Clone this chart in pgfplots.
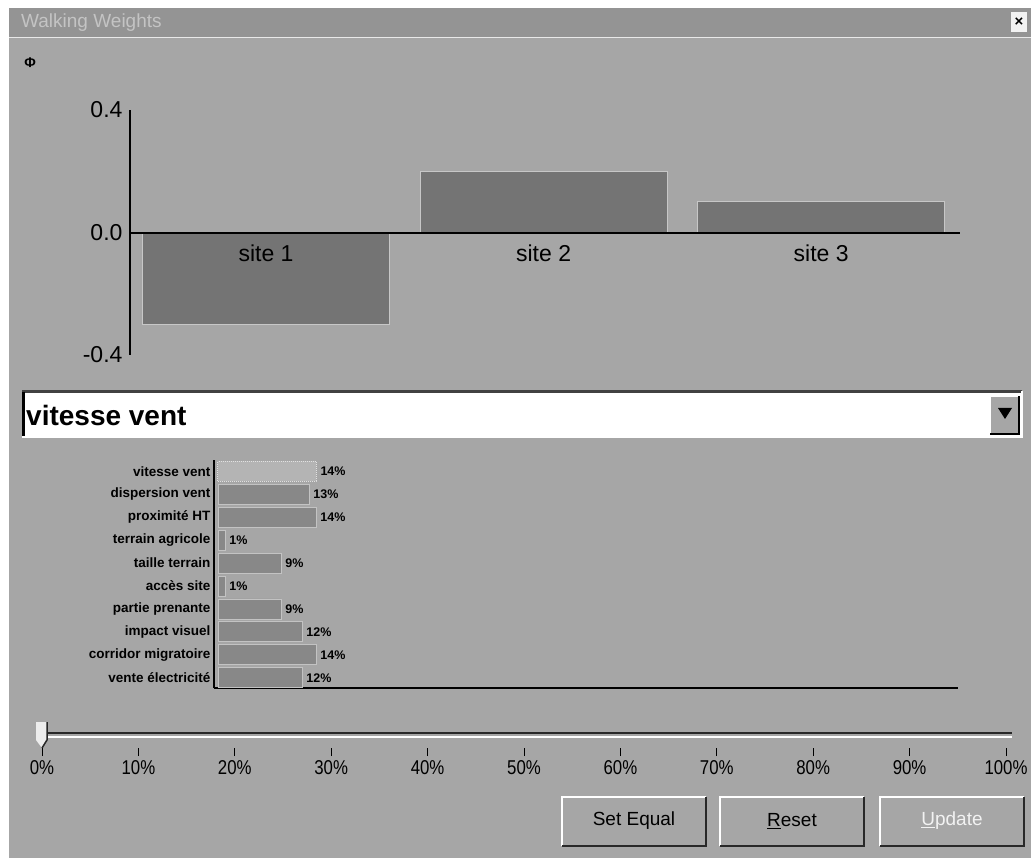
\documentclass[border=0pt]{standalone}
\usepackage{fontspec}
\setmainfont{Liberation Sans}
\usepackage{pgfplots}
\pgfplotsset{compat=1.18}
\definecolor{win}{RGB}{166,166,166}
\definecolor{titlebar}{RGB}{148,148,148}
\definecolor{titletext}{RGB}{196,196,196}
\definecolor{barA}{RGB}{116,116,116}
\definecolor{barB}{RGB}{136,136,136}
\definecolor{barSel}{RGB}{180,180,180}
\definecolor{dark}{RGB}{40,40,40}
\newcommand{\fs}[1]{\fontsize{#1}{#1}\selectfont}
\begin{document}
\begin{tikzpicture}
\useasboundingbox (0,0) rectangle (1031pt,-858pt);
\begin{scope}[x=1pt,y=-1pt]
  \fill[white] (0,0) rectangle (1031,858);
  \fill[win] (9,8) rectangle (1031,858);
  % title bar
  \fill[titlebar] (9,8) rectangle (1031,37);
  \draw[white!75!win, line width=1pt] (9,37.5) -- (1031,37.5);
  \node[anchor=west, text=titletext, font=\fs{19}, inner sep=0] at (21,23) {Walking Weights};
  % close button
  \fill[white!85!win] (1011,12) rectangle (1027,32);
  \node[font=\fs{15}\bfseries, inner sep=0] at (1019,22) {×};
  % phi
  \node[font=\fs{14}\bfseries, inner sep=0] at (30,63) {Φ};
  % dropdown
  \fill[white] (22,391) rectangle (1022,437);
  \draw[dark!80!win, line width=3pt] (22,392) -- (1022,392);
  \draw[black, line width=2.5pt] (23.5,392) -- (23.5,437);
  \draw[white, line width=2pt] (22,437) -- (1022,437) -- (1022,391);
  \fill[win] (990,396) rectangle (1019,434);
  \draw[white, line width=1.5pt] (990,434) -- (990,396) -- (1019,396);
  \draw[black, line width=2pt] (990,434) -- (1019,434) -- (1019,396);
  \fill[black] (998,408) -- (1012,408) -- (1005,419) -- cycle;
  \node[anchor=west, font=\fs{28}\bfseries, inner sep=0] at (26,415) {vitesse vent};
  % slider track
  \draw[dark, line width=2.5pt] (46,733) -- (1012,733);
  \draw[white, line width=2pt] (46,736.5) -- (1012,736.5);
  % slider thumb
  \fill[white!80!win] (36,722) -- (47,722) -- (47,740) -- (42,748) -- (36,740) -- cycle;
  \draw[dark, line width=1.5pt] (47,722) -- (47,740) -- (42,748);
  % buttons
  \foreach \xa/\txt in {562/{Set Equal}, 720/{\underline{R}eset}} {
    \draw[white, line width=2pt] (\xa,846) -- (\xa,797) -- (\xa+144,797);
    \draw[dark, line width=2.5pt] (\xa,846) -- (\xa+144,846) -- (\xa+144,797);
    \node[font=\fs{19}] at (\xa+72,821) {\txt};
  }
  \draw[white, line width=2pt] (880,846) -- (880,797) -- (1024,797);
  \draw[dark, line width=2.5pt] (880,846) -- (1024,846) -- (1024,797);
  \node[font=\fs{19}, text=white!85!win] at (952,821) {\underline{U}pdate};
\end{scope}

% ---------- top chart ----------
\begin{axis}[
  at={(130pt,-355pt)}, anchor=south west,
  scale only axis, width=830pt, height=245pt,
  xmin=-0.49, xmax=2.5, ymin=-0.4, ymax=0.4,
  axis x line=middle, axis y line=left,
  axis line style={-, line width=2pt, black},
  xtick={0,1,2}, xticklabels={site 1,site 2,site 3},
  ytick={-0.4,0,0.4}, yticklabels={-0.4,0.0,0.4},
  major tick length=0pt,
  tick label style={font=\fs{23}},
  xticklabel style={yshift=-9pt},
  yticklabel style={xshift=-4pt},
  ybar, bar width=0.89, bar shift=0pt,
  axis on top, clip=false,
]
\addplot[fill=barA, draw=white!60!barA, line width=0.8pt] coordinates {(0,-0.3) (1,0.2) (2,0.1)};
\end{axis}

% ---------- bottom chart ----------
\begin{axis}[
  at={(214pt,-688pt)}, anchor=south west,
  scale only axis, width=744pt, height=228pt,
  xmin=-0.57, xmax=105.7, ymin=-0.45, ymax=9.5,
  axis x line=bottom, axis y line=left,
  axis line style={-, line width=2pt, black},
  xtick=\empty,
  ytick={0,...,9},
  yticklabels={vente électricité, corridor migratoire, impact visuel, partie prenante, accès site, taille terrain, terrain agricole, proximité HT, dispersion vent, vitesse vent},
  major tick length=0pt,
  yticklabel style={font=\fs{13.5}\bfseries},
  xbar, bar width=0.87, bar shift=0pt,
  nodes near coords={\pgfmathprintnumber{\pgfplotspointmeta}\%},
  nodes near coords style={font=\fs{12.5}\bfseries, anchor=west, inner sep=1pt, xshift=3pt},
  point meta=x,
  /pgf/number format/assume math mode=true,
  clip=false,
]
\addplot[fill=barB, draw=white!50!barB, line width=0.8pt] coordinates {
  (12,0) (14,1) (12,2) (9,3) (1,4) (9,5) (1,6) (14,7) (13,8)};
\addplot[fill=barSel, draw=white!60!barSel, densely dotted, line width=1pt] coordinates {(14,9)};
\end{axis}

% ---------- slider scale ----------
\begin{axis}[
  at={(42pt,-748pt)}, anchor=south west,
  scale only axis, width=964pt, height=10pt,
  xmin=0, xmax=100, ymin=0, ymax=1,
  axis x line=bottom, axis y line=none,
  x axis line style={draw=none},
  xtick={0,10,...,100},
  xticklabel={\scalebox{0.84}[1]{\pgfmathprintnumber{\tick}\%}},
  xtick align=outside, major tick length=8pt,
  tick style={black, line width=1pt},
  xticklabel style={font=\fs{20}, yshift=-1pt},
  /pgf/number format/assume math mode=true,
]
\end{axis}
\end{tikzpicture}
\end{document}
